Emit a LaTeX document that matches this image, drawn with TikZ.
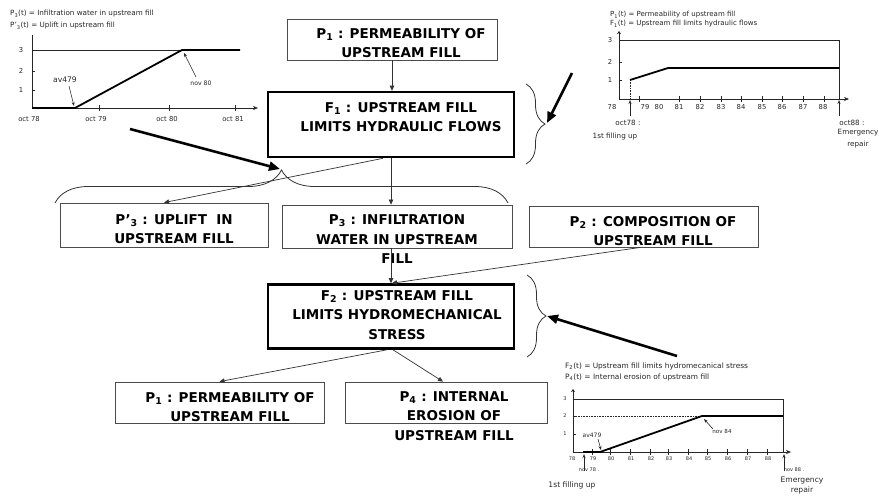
\documentclass[tikz,border=0pt]{standalone}
\usepackage{fontspec}
\setmainfont{DejaVu Sans}
\usetikzlibrary{arrows.meta,decorations.pathreplacing,calc}

\begin{document}
\begin{tikzpicture}[x=1pt,y=-1pt,
  thinbox/.style={draw=black!70,line width=0.8pt,inner sep=0pt,rectangle},
  thickbox/.style={draw=black,line width=2.6pt,inner sep=0pt,rectangle},
  boxtext/.style={font=\fontsize{13.5}{19.5}\selectfont\bfseries,align=center,inner sep=0pt,text=black},
  link/.style={draw=black!80,line width=0.7pt,-{Triangle[length=5pt,width=4.5pt]}},
  bigarrow/.style={draw=black,line width=2.6pt,-{Triangle[length=11pt,width=9pt]}},
  bracestyle/.style={draw=black!80,line width=0.8pt,decorate},
  axisline/.style={draw=black!85,line width=0.6pt},
  curve/.style={draw=black,line width=1.8pt},
  pointer/.style={draw=black!85,line width=0.6pt,-{Stealth[length=4pt,width=3pt]}},
  legend/.style={font=\fontsize{7}{8}\selectfont,inner sep=0pt,anchor=west,text=black!85},
  ticklab/.style={font=\fontsize{6.8}{8}\selectfont,inner sep=0pt,text=black!85},
  notelab/.style={font=\fontsize{7.2}{12}\selectfont,inner sep=0pt,text=black!85,align=center},
  smalllab/.style={font=\fontsize{5}{6}\selectfont,inner sep=0pt,text=black!85},
]
\useasboundingbox (0,0) rectangle (879,496);

% ---------- boxes ----------
\node[thinbox,minimum width=210pt,minimum height=41pt] (p1top) at (392,39.5) {};
\node[boxtext] (p1topT) at (401,43) {P\textsubscript{1} : PERMEABILITY OF\\UPSTREAM FILL};

\node[thickbox,minimum width=246pt,minimum height=65pt] (f1) at (391,124.5) {};
\node[boxtext] (f1T) at (401,117) {F\textsubscript{1} : UPSTREAM FILL\\LIMITS HYDRAULIC FLOWS};

\node[thinbox,minimum width=208pt,minimum height=44pt] (p3p) at (164,225) {};
\node[boxtext] (p3pT) at (174,229) {P’\textsubscript{3} : UPLIFT\ \ IN\\UPSTREAM FILL};

\node[thinbox,minimum width=230pt,minimum height=43pt] (p3) at (397,226.5) {};
\node[boxtext] (p3T) at (397,239) {P\textsubscript{3} : INFILTRATION\\WATER IN UPSTREAM\\FILL};

\node[thinbox,minimum width=229pt,minimum height=41pt] (p2) at (643.5,226.5) {};
\node[boxtext] (p2T) at (653,231) {P\textsubscript{2} : COMPOSITION OF\\UPSTREAM FILL};

\node[thickbox,minimum width=246pt,minimum height=64pt] (f2) at (391,316.5) {};
\node[boxtext] (f2T) at (397,315) {F\textsubscript{2} : UPSTREAM FILL\\LIMITS HYDROMECHANICAL\\STRESS};

\node[thinbox,minimum width=209pt,minimum height=41pt] (p1b) at (219.5,402.5) {};
\node[boxtext] (p1bT) at (230,407) {P\textsubscript{1} : PERMEABILITY OF\\UPSTREAM FILL};

\node[thinbox,minimum width=202pt,minimum height=41pt] (p4) at (446,402.5) {};
\node[boxtext] (p4T) at (454,416) {P\textsubscript{4} : INTERNAL\\EROSION OF\\UPSTREAM FILL};

% ---------- connectors ----------
\draw[link] (p1top.south) -- (f1.north -| p1top.south);
\draw[link] ([xshift=-8pt]f1.south) -- (p3p.north);
\draw[link] (f1.south) -- (f1.south |- p3.north);
\draw[link] (f2.north |- p3.south) -- (f2.north);
\draw[link] ([xshift=-3pt]p2.south) -- ([xshift=1pt]f2.north);
\draw[link] ([xshift=-4pt]f2.south) -- (p1b.north);
\draw[link] ([xshift=2pt]f2.south) -- ([xshift=-3pt]p4.north);

% ---------- braces ----------
\coordinate (b1a) at (55,203);
\coordinate (b1b) at (508,203);
\coordinate (b1tip) at (280,169);
\draw[bracestyle,decoration={brace,amplitude=33pt}] (b1a) -- (b1b);

\coordinate (b2a) at (526,84);
\coordinate (b2b) at (526,164);
\coordinate (b2tip) at (547,123);
\draw[bracestyle,decoration={brace,amplitude=19pt}] (b2a) -- (b2b);

\coordinate (b3a) at (527,275);
\coordinate (b3b) at (527,357);
\coordinate (b3tip) at (547,316);
\draw[bracestyle,decoration={brace,amplitude=19pt}] (b3a) -- (b3b);

\coordinate (a1s) at (130,129);
\coordinate (a2s) at (572,73);
\coordinate (a3s) at (677,356);
\draw[bigarrow] (a1s) -- (b1tip);
\draw[bigarrow] (a2s) -- (b2tip);
\draw[bigarrow] (a3s) -- (b3tip);

% ---------- chart: infiltration / uplift ----------
\node[legend,font=\fontsize{7.2}{8}\selectfont] (l1a) at (10,14) {P\textsubscript{3}(t) = Infiltration water in upstream fill};
\node[legend,font=\fontsize{7.2}{8}\selectfont] (l1b) at (10,26) {P’\textsubscript{3}(t) = Uplift in upstream fill};
\draw[axisline,-{Stealth[length=5pt,width=4pt]}] (32,108) -- (258,108);
\draw[axisline] (32,108) -- (32,35);
\foreach \yy/\lab in {50/3,71/2,90/1} {
  \draw[axisline] (32,\yy) -- (35,\yy);
  \node[ticklab] at (21,\yy) {\lab};
}
\foreach \xx in {99,169,235} \draw[axisline] (\xx,105) -- (\xx,111);
\draw[axisline] (32,50) -- (182,50);
\draw[curve] (32,108) -- (75,108) -- (182,50) -- (240,50);
\node[ticklab] (c1x78) at (29,119) {oct 78};
\node[ticklab] (c1x79) at (96,119) {oct 79};
\node[ticklab] (c1x80) at (167,119) {oct 80};
\node[ticklab] (c1x81) at (233,119) {oct 81};
\node[ticklab,font=\fontsize{7.6}{8}\selectfont] (c1av) at (65,80) {av479};
\draw[pointer] (69,86) -- (74,106);
\node[ticklab,font=\fontsize{6.2}{8}\selectfont] (c1nov) at (201,83) {nov 80};
\draw[pointer] (196,77) -- (184,53);

% ---------- chart: permeability / hydraulic flows ----------
\node[legend] (l2a) at (610,15) {P\textsubscript{1}(t) = Permeability of upstream fill};
\node[legend] (l2b) at (610,24) {F\textsubscript{1}(t) = Upstream fill limits hydraulic flows};
\draw[axisline,-{Stealth[length=5pt,width=4pt]}] (619,99) -- (849,99);
\draw[axisline,-{Stealth[length=3pt,width=4pt]}] (619,99) -- (619,31);
\draw[axisline] (619,40) -- (839,40) -- (839,99);
\foreach \yy/\lab in {40/3,62/2,80/1} {
  \draw[axisline] (619,\yy) -- (622,\yy);
  \node[ticklab] at (610,\yy) {\lab};
}
\foreach \xx in {639,679,700,721,741,762,782,803,824} \draw[axisline] (\xx,96) -- (\xx,102);
\foreach \xx/\lab in {612/78,645/79,659/80,679/81,700/82,721/83,741/84,762/85,782/86,803/87,823/88}
  \node[ticklab] at (\xx,107) {\lab};
\draw[axisline,densely dotted] (630,80) -- (630,99);
\draw[curve] (630,80) -- (668,68) -- (839,68);
\coordinate (c2u1) at (630,116);
\coordinate (c2u2) at (839,116);
\draw[pointer] (c2u1) -- (630,100);
\draw[pointer] (c2u2) -- (839,100);
\node[notelab] (c2oct78) at (628,122.5) {oct78 :};
\node[notelab] (c2first) at (615,137) {1st filling up};
\node[notelab] (c2oct88) at (852,122.5) {oct88 :};
\node[notelab] (c2rep) at (858,139) {Emergency\\repair};

% ---------- chart: hydromechanical stress / internal erosion ----------
\node[legend,font=\fontsize{7.4}{8}\selectfont] (l3a) at (565,366) {F\textsubscript{2}(t) = Upstream fill limits hydromecanical stress};
\node[legend,font=\fontsize{7.4}{8}\selectfont] (l3b) at (565,377) {P\textsubscript{4}(t) = Internal erosion of upstream fill};
\draw[axisline,-{Stealth[length=5pt,width=4pt]}] (573,452) -- (791,452);
\draw[axisline,-{Stealth[length=3pt,width=4pt]}] (573,452) -- (573,389);
\draw[axisline] (573,399) -- (783,399) -- (783,452);
\foreach \yy/\lab in {399/3,416/2,434/1} {
  \draw[axisline] (573,\yy) -- (576,\yy);
  \node[smalllab] at (565,\yy) {\lab};
}
\foreach \xx in {592,610,630,650,668,688,707,727,747,767} \draw[axisline] (\xx,449) -- (\xx,455);
\foreach \xx/\lab in {572/78,593/79,611/80,631/81,651/82,669/83,689/84,708/85,728/86,748/87,768/88}
  \node[smalllab] at (\xx,459) {\lab};
\draw[axisline,densely dotted] (573,416) -- (702,416);
\draw[curve] (583,452) -- (600,452) -- (702,416) -- (783,416);
\node[smalllab,font=\fontsize{6}{7}\selectfont] (c3av) at (592,435) {av479};
\draw[pointer] (598,439) -- (601,450);
\node[smalllab,font=\fontsize{5.6}{7}\selectfont] (c3nov) at (722,431) {nov 84};
\draw[pointer] (713,429) -- (704,419);
\draw[pointer] (584,471) -- (584,454);
\draw[pointer] (784,471) -- (784,454);
\node[smalllab] (c3n78) at (589,470) {nov 78 .};
\node[smalllab] (c3n88) at (794,470) {nov 88 .};
\node[notelab,font=\fontsize{7.6}{9}\selectfont] (c3first) at (572,485) {1st filling up};
\node[notelab,font=\fontsize{7.6}{10}\selectfont] (c3rep) at (802,486) {Emergency\\repair};
\end{tikzpicture}
\end{document}
